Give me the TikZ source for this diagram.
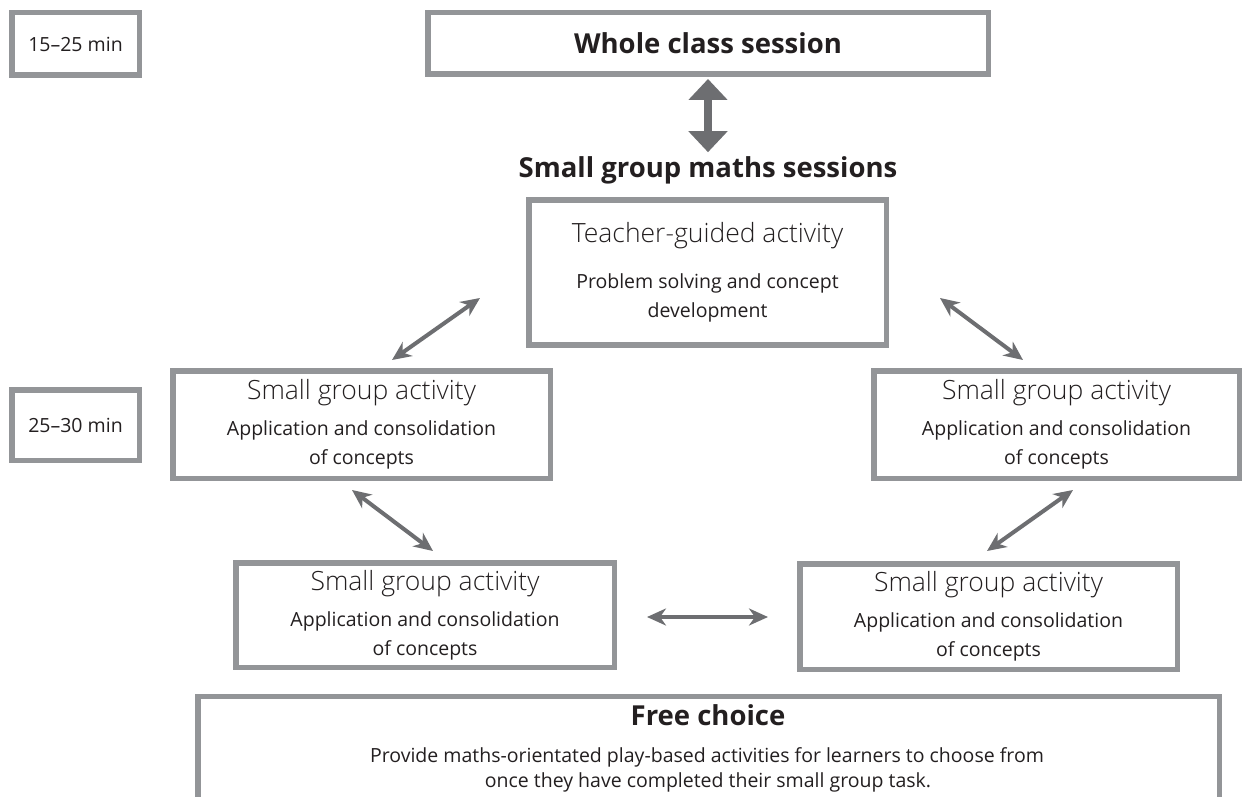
\documentclass[tikz,border=0pt]{standalone}
\usepackage{fontspec}
\setmainfont{Open Sans}
\newfontfamily\lightfont{Open Sans Light}
\usetikzlibrary{arrows.meta}

\definecolor{boxgray}{HTML}{939598}
\definecolor{arrowgray}{HTML}{6D6E71}
\definecolor{ink}{HTML}{231F20}

% type sizes used in the chart
\newcommand\txtbody{\fontsize{19.5}{29}\selectfont}
\newcommand\txthead{\lightfont\fontsize{26.5}{32}\selectfont}
\newcommand\txtbold{\bfseries\fontsize{27.5}{32}\selectfont}

\begin{document}
\begin{tikzpicture}[x=1pt, y=-1pt,
  frame/.style={draw=boxgray, line width=5.5pt, fill=white, inner sep=0pt,
                align=center, text=ink, font=\txtbody},
  label/.style={text=ink, inner sep=0pt},
  biarrow/.style={draw=arrowgray, fill=arrowgray, line width=4pt,
                  {Stealth[length=19pt,width=17pt,inset=6pt]}-{Stealth[length=19pt,width=17pt,inset=6pt]}},
  bigarrow/.style={draw=arrowgray, fill=arrowgray, line width=8pt,
                   {Triangle[length=21pt,width=38pt]}-{Triangle[length=21pt,width=38pt]}},
]
\path[use as bounding box, fill=white] (0,0) rectangle (1243,797);
\clip (0,0) rectangle (1243,797);

% time labels
\node[frame, minimum width=127.5, minimum height=62.5] (time1) at (75.5,44) {15--25 min};
\node[frame, minimum width=127.5, minimum height=70.5] (time2) at (75.5,425) {25--30 min};

% whole class
\node[frame, minimum width=560.5, minimum height=61.5] (whole) at (708,43.5)
  {\txtbold Whole class session};

\node[label, font=\txtbold, anchor=base] (sgtitle) at (708,178) {Small group maths sessions};

% small group rotation
\node[frame, minimum width=357.5, minimum height=144.5] (teacher) at (707.5,272.5)
  {{\txthead Teacher-guided activity}\\[17pt] Problem solving and concept\\ development};

\node[frame, minimum width=377.5, minimum height=107.5] (sgL) at (361.5,424.5)
  {{\txthead Small group activity}\\[7pt] Application and consolidation\\ of concepts};
\node[frame, minimum width=365.5, minimum height=107.5] (sgR) at (1056.5,424.5)
  {{\txthead Small group activity}\\[7pt] Application and consolidation\\ of concepts};
\node[frame, minimum width=378.5, minimum height=104.5] (sgBL) at (425,615)
  {{\txthead Small group activity}\\[7pt] Application and consolidation\\ of concepts};
\node[frame, minimum width=377.5, minimum height=105.5] (sgBR) at (988.5,616.5)
  {{\txthead Small group activity}\\[7pt] Application and consolidation\\ of concepts};

% free choice
\node[frame, anchor=north, minimum width=1021.5, minimum height=160] (free) at (708.5,693.75) {};
\node[label, font=\txtbold, anchor=base] (freehead) at (708,725) {Free choice};
\node[label, font=\txtbody, anchor=base] (freel1) at (707,762)
  {Provide maths-orientated play-based activities for learners to choose from};
\node[label, font=\txtbody, anchor=base] (freel2) at (708,787)
  {once they have completed their small group task.};

% connectors
\draw[bigarrow, shorten <=2pt, shorten >=4.7pt] (whole.south) -- (sgtitle.north);

\coordinate (a1t) at (480,298);  \coordinate (a1b) at (392,360);
\coordinate (a2t) at (940,298);  \coordinate (a2b) at (1023,360);
\coordinate (a3t) at (352,490);  \coordinate (a3b) at (433,551);
\coordinate (a4t) at (1073,490); \coordinate (a4b) at (987,551);
\coordinate (a5l) at (647,617);  \coordinate (a5r) at (768,617);

\draw[biarrow] (a1t) -- (a1b);
\draw[biarrow] (a2t) -- (a2b);
\draw[biarrow] (a3t) -- (a3b);
\draw[biarrow] (a4t) -- (a4b);
\draw[biarrow] (a5l) -- (a5r);
\end{tikzpicture}
\end{document}
